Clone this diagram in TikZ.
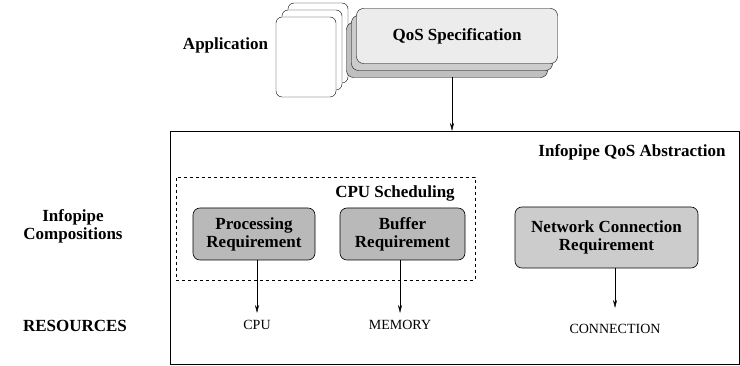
\documentclass[tikz,border=0pt]{standalone}
\usepackage{fontspec}
\setmainfont{Liberation Serif}
\usepackage{tikz}
\usetikzlibrary{positioning,arrows.meta}

\begin{document}
\begin{tikzpicture}[
    x=1pt, y=-1pt,
    every node/.style={inner sep=0pt, outer sep=0pt},
    bold/.style={font=\fontsize{17}{18}\selectfont\bfseries, align=center},
    res/.style={font=\fontsize{14}{15}\selectfont},
    appbox/.style={draw, fill=white, rounded corners=6pt, minimum width=60pt, minimum height=80pt},
    qosbox/.style={draw, rounded corners=7pt, minimum width=201pt, minimum height=55pt},
    reqbox/.style={draw, fill=gray!55, rounded corners=7pt, bold, line width=0.6pt},
    arr/.style={-{Stealth[length=8pt,width=4pt]}, line width=0.5pt},
  ]
  \useasboundingbox (0,0) rectangle (740,366);

  % application stack
  \node[appbox] (app3) at (318,43) {};
  \node[appbox] (app2) at (312,50) {};
  \node[appbox] (app1) at (306,57) {};
  \node[bold, anchor=east] (applbl) at (268,45) {Application};

  % qos specification stack
  \node[qosbox, fill=gray!50] (qos3) at (447,50) {};
  \node[qosbox, fill=gray!40] (qos2) at (452,43) {};
  \node[qosbox, fill=gray!15, bold] (qos1) at (457,36) {QoS Specification};

  % abstraction frame
  \node[draw, line width=0.8pt, minimum width=569pt, minimum height=233pt] (abs) at (454.5,247.5) {};
  \node[bold] (abslbl) at (632,152) {Infopipe QoS Abstraction};
  \draw[arr] (qos2.south |- qos3.south) -- (qos2.south |- abs.north);

  % cpu scheduling
  \node[draw, dashed, line width=0.5pt, minimum width=299pt, minimum height=103pt] (sched) at (325.5,228.5) {};
  \node[bold] (schedlbl) at (395,193) {CPU Scheduling};

  \node[reqbox, minimum width=122pt, minimum height=52pt] (proc) at (254,234) {Processing\\Requirement};
  \node[reqbox, minimum width=125pt, minimum height=52pt] (buf) at (402.5,234) {Buffer\\Requirement};
  \node[reqbox, fill=gray!40, minimum width=183pt, minimum height=61pt] (net) at (606.5,237.5) {Network Connection\\Requirement};

  % resources
  \node[res] (cpu) at (257,325) {CPU};
  \node[res] (mem) at (400,325) {MEMORY};
  \node[res] (conn) at (615,329) {CONNECTION};
  \draw[arr] (proc.south -| cpu) -- ([yshift=12pt]cpu.center);
  \draw[arr] (buf.south -| mem) -- ([yshift=12pt]mem.center);
  \draw[arr] (net.south -| conn) -- ([yshift=21pt]conn.center);

  % side labels
  \node[bold] (comp) at (73,226) {Infopipe\\Compositions};
  \node[bold] (reslbl) at (75,326) {RESOURCES};
\end{tikzpicture}
\end{document}
